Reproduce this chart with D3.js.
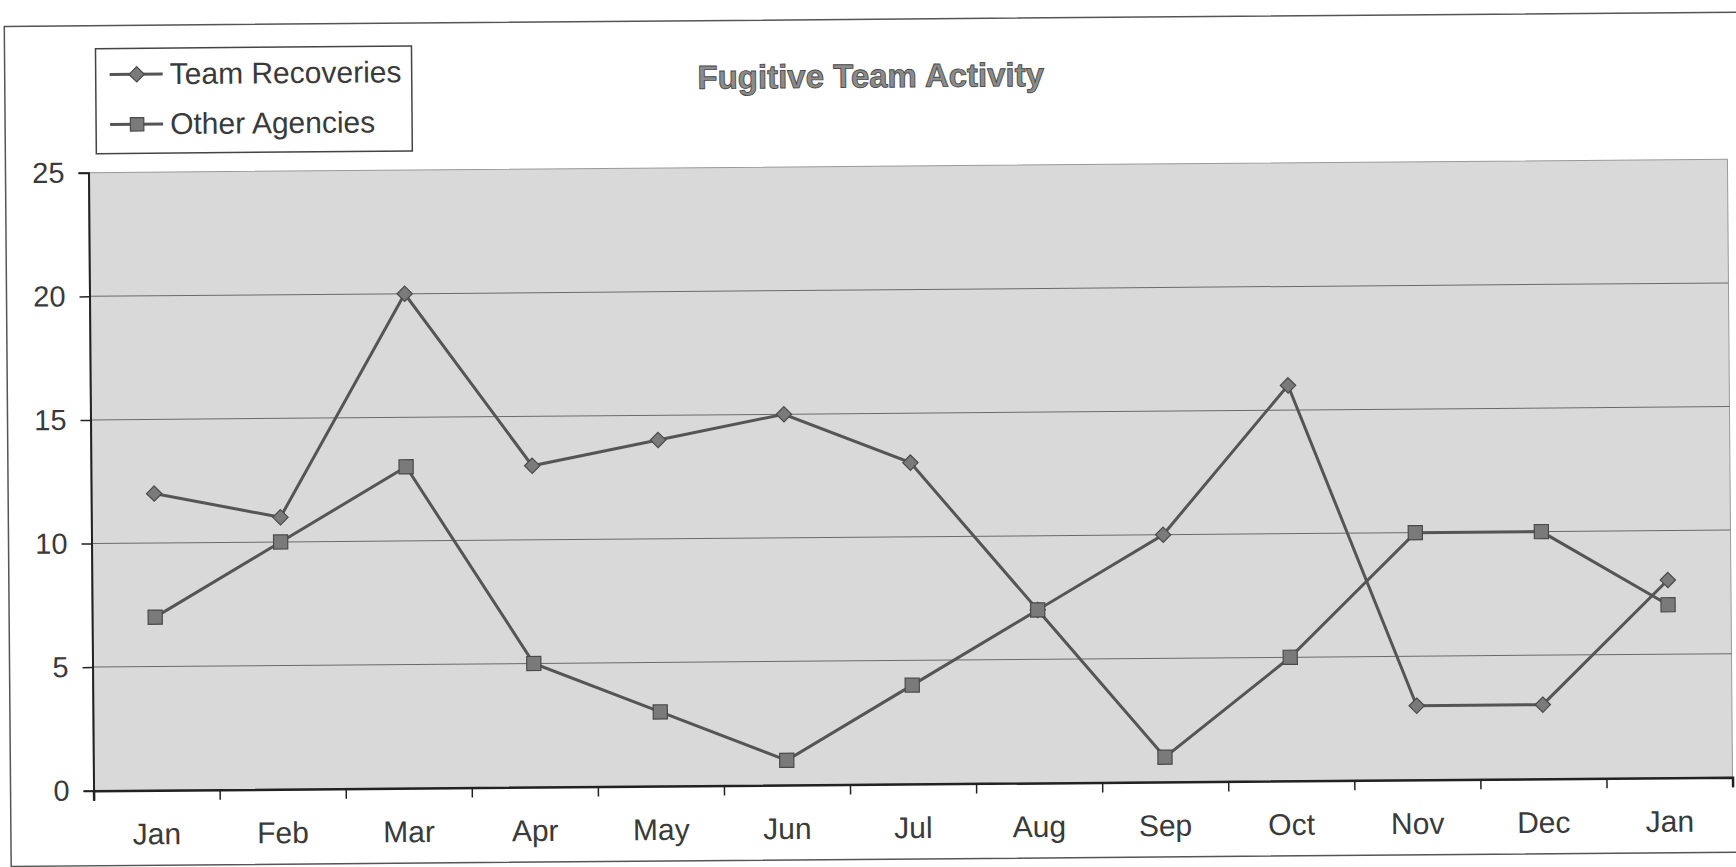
<!DOCTYPE html>
<html>
<head>
<meta charset="utf-8">
<script src="https://cdn.jsdelivr.net/npm/d3@7"></script>
<style>
  body { margin: 0; background: #fff; }
  text { font-family: "Liberation Sans", Arial, sans-serif; }
</style>
</head>
<body>
<svg id="chart" width="1736" height="867"></svg>
<script>
// month labels (13 points, Jan repeats at the end)
var months = ["Jan", "Feb", "Mar", "Apr", "May", "Jun", "Jul", "Aug", "Sep", "Oct", "Nov", "Dec", "Jan"];
var teamRecoveries = [12, 11, 20, 13, 14, 15, 13, 7, 10, 16, 3, 3, 8];
var otherAgencies = [7, 10, 13, 5, 3, 1, 4, 7, 1, 5, 10, 10, 7];
var yTicks = [0, 5, 10, 15, 20, 25];
var seriesNames = ["Team Recoveries", "Other Agencies"];

var plotLeft = 91, plotRight = 1730, plotTop = 166, plotBottom = 784;

var svg = d3.select("#chart");

// the scan is a little crooked, so tilt everything slightly
var g = svg.append("g")
    .attr("transform", "rotate(-0.47, 910, 475)");

// outer frame
g.append("rect")
    .attr("x", 8).attr("y", 19)
    .attr("width", 1760).attr("height", 840)
    .attr("fill", "none")
    .attr("stroke", "#555")
    .attr("stroke-width", 1.5);

var idx = d3.range(months.length);
var x = d3.scaleBand().domain(idx).range([plotLeft, plotRight]);
var y = d3.scaleLinear().domain([0, 25]).range([plotBottom, plotTop]);

// plot background
g.append("rect")
    .attr("x", plotLeft).attr("y", plotTop)
    .attr("width", plotRight - plotLeft).attr("height", plotBottom - plotTop)
    .attr("fill", "#d9d9d9")
    .attr("stroke", "#999")
    .attr("stroke-width", 1);

// gridlines
g.selectAll(".grid")
    .data(yTicks.filter(function (d) { return d > 0 && d < 25; }))
    .enter().append("line")
    .attr("x1", plotLeft).attr("x2", plotRight)
    .attr("y1", function (d) { return y(d); })
    .attr("y2", function (d) { return y(d); })
    .attr("stroke", "#6a6a6a")
    .attr("stroke-width", 1);

// y axis
var yAxis = g.append("g")
    .attr("transform", "translate(" + plotLeft + ",0)")
    .call(d3.axisLeft(y).tickValues(yTicks).tickSize(10).tickPadding(14));
yAxis.select(".domain").attr("stroke", "#222").attr("stroke-width", 2);
yAxis.selectAll(".tick line").attr("stroke", "#222").attr("stroke-width", 1.5);
yAxis.selectAll(".tick text")
    .attr("font-size", 29)
    .attr("fill", "#3a3a3a")
    .attr("font-family", "Liberation Sans, Arial, sans-serif");

// x axis: ticks between categories, labels centred in each band
var edges = d3.range(months.length + 1);
var xEdge = d3.scaleLinear().domain([0, months.length]).range([plotLeft, plotRight]);
var xAxis = g.append("g")
    .attr("transform", "translate(0," + plotBottom + ")")
    .call(d3.axisBottom(xEdge).tickValues(edges).tickSize(10).tickFormat(""));
xAxis.select(".domain").attr("stroke", "#222").attr("stroke-width", 2.5);
xAxis.selectAll(".tick line").attr("stroke", "#222").attr("stroke-width", 1.5);

g.selectAll(".xlab")
    .data(idx)
    .enter().append("text")
    .attr("x", function (i) { return x(i) + x.bandwidth() / 2; })
    .attr("y", 838)
    .attr("text-anchor", "middle")
    .attr("font-size", 30)
    .attr("fill", "#3a3a3a")
    .text(function (i) { return months[i]; });

// lines
var line = d3.line()
    .x(function (d, i) { return x(i) + x.bandwidth() / 2; })
    .y(function (d) { return y(d); });

[teamRecoveries, otherAgencies].forEach(function (s) {
    g.append("path")
        .datum(s)
        .attr("d", line)
        .attr("fill", "none")
        .attr("stroke", "#555")
        .attr("stroke-width", 3);
});

var diamond = d3.symbol().type(d3.symbolDiamond2).size(150);
var square = d3.symbol().type(d3.symbolSquare).size(200);

g.selectAll(".dia")
    .data(teamRecoveries)
    .enter().append("path")
    .attr("d", diamond)
    .attr("transform", function (d, i) {
        return "translate(" + (x(i) + x.bandwidth() / 2) + "," + y(d) + ")";
    })
    .attr("fill", "#7a7a7a")
    .attr("stroke", "#4a4a4a")
    .attr("stroke-width", 1.2);

g.selectAll(".sq")
    .data(otherAgencies)
    .enter().append("path")
    .attr("d", square)
    .attr("transform", function (d, i) {
        return "translate(" + (x(i) + x.bandwidth() / 2) + "," + y(d) + ")";
    })
    .attr("fill", "#7a7a7a")
    .attr("stroke", "#4a4a4a")
    .attr("stroke-width", 1.2);

// title
g.append("text")
    .attr("x", 874).attr("y", 87)
    .attr("text-anchor", "middle")
    .attr("font-size", 33)
    .attr("font-weight", "bold")
    .attr("fill", "#8c8c8c")
    .attr("stroke", "#4a4a4a")
    .attr("stroke-width", 0.9)
    .text("Fugitive Team Activity");

// legend
var legend = g.append("g");
legend.append("rect")
    .attr("x", 99).attr("y", 42)
    .attr("width", 316).attr("height", 105)
    .attr("fill", "#fff")
    .attr("stroke", "#444")
    .attr("stroke-width", 1.5);

var items = legend.selectAll(".item")
    .data(seriesNames)
    .enter().append("g")
    .attr("transform", function (d, i) { return "translate(0," + (68 + i * 50) + ")"; });

items.append("line")
    .attr("x1", 113).attr("x2", 166)
    .attr("stroke", "#555")
    .attr("stroke-width", 3);

items.append("path")
    .attr("d", function (d, i) { return i === 0 ? diamond() : d3.symbol().type(d3.symbolSquare).size(180)(); })
    .attr("transform", "translate(140,0)")
    .attr("fill", "#7a7a7a")
    .attr("stroke", "#4a4a4a")
    .attr("stroke-width", 1.2);

items.append("text")
    .attr("x", 173).attr("y", 10)
    .attr("font-size", 30)
    .attr("fill", "#3a3a3a")
    .text(function (d) { return d; });
</script>
</body>
</html>
